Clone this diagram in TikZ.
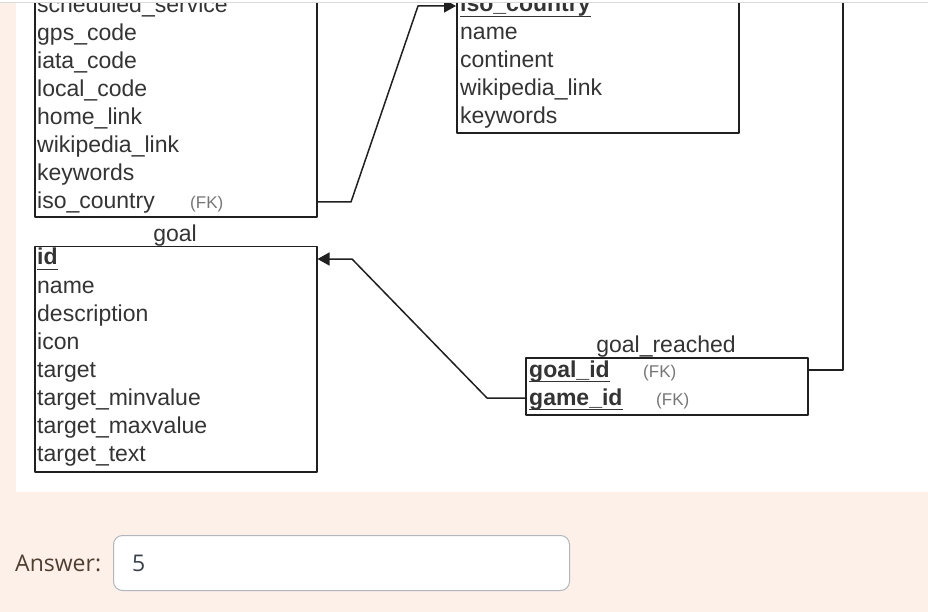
\documentclass[tikz,border=0pt]{standalone}
\usepackage{fontspec}
\setmainfont{Liberation Sans}
\newfontfamily\ansfont{Open Sans}
\usetikzlibrary{arrows.meta}
\definecolor{peach}{RGB}{253,240,233}
\definecolor{txt}{RGB}{52,52,52}
\definecolor{fkgray}{RGB}{118,118,118}
\definecolor{ln}{RGB}{32,32,32}
\definecolor{anscol}{RGB}{80,62,48}
\definecolor{valcol}{RGB}{58,64,74}
\definecolor{boxcol}{RGB}{178,182,188}
\newcommand\keyul[1]{\setbox0\hbox{\bfseries #1}\rlap{\rule[-5pt]{\wd0}{1.3pt}}\box0}
\tikzset{
  tbl/.style={draw=ln, line width=1.5pt, fill=white, minimum width=282pt, inner sep=0pt},
  row/.style={anchor=base west, inner sep=0pt, text=txt},
  fk/.style={anchor=base west, inner sep=0pt, text=fkgray, font=\fontsize{17}{17}\selectfont},
  ttl/.style={anchor=base, inner sep=0pt, text=txt},
  rel/.style={ln, line width=1.5pt}
}
\begin{document}
\begin{tikzpicture}[x=1pt, y=-1pt, font=\fontsize{23}{23}\selectfont, line join=round, >={Triangle[length=12pt,width=13pt]}]
  \useasboundingbox[fill=peach] (0,0) rectangle (928,612);
  \fill[white] (0,0) rectangle (928,3);
  \fill[white] (16,3) rectangle (928,492);
  \draw[gray!30, line width=1pt] (0,3) -- (928,3);
  \begin{scope}
    \clip (16,3.6) rectangle (928,492);
    \node[tbl, minimum height=262pt, anchor=south west] (airport) at (34,218) {};
    \foreach \t [count=\i from 0] in {scheduled\_service, gps\_code, iata\_code, local\_code, home\_link, wikipedia\_link, keywords, iso\_country}
      \node[row] (ap\i) at (37,{13+28*\i}) {\t};
    \node[fk] (apfk) at (190,209) {(FK)};

    \node[tbl, minimum height=170pt, anchor=south west] (iso) at (456,134) {};
    \node[row] (ic0) at (460,12) {\keyul{iso\_country}};
    \foreach \t [count=\i] in {name, continent, wikipedia\_link, keywords}
      \node[row] (ic\i) at (460,{12+28*\i}) {\t};

    \node[ttl] (goallbl) at (175,241) {goal};
    \node[tbl, minimum height=225pt, anchor=north west] (goal) at (34,246) {};
    \node[row] (g0) at (37,265) {\keyul{id}};
    \foreach \t [count=\i] in {name, description, icon, target, target\_minvalue, target\_maxvalue, target\_text}
      \node[row] (g\i) at (37,{265+28*\i}) {\t};

    \node[ttl] (grlbl) at (666,352) {goal\_reached};
    \node[tbl, minimum height=57pt, anchor=north west] (gr) at (525,357) {};
    \node[row] (gr1) at (529,377) {\keyul{goal\_id}};
    \node[row] (gr2) at (529,405) {\keyul{game\_id}};
    \node[fk] (grfk1) at (643,377) {(FK)};
    \node[fk] (grfk2) at (656,405) {(FK)};

    \coordinate (s1) at (351,202);
    \coordinate (b1) at (418,6);
    \coordinate (s2) at (487,398);
    \coordinate (b2) at (352,259);
    \coordinate (s3) at (843,370);
    \coordinate (t3) at (843,0);
    \draw[->, rel] (airport.east |- s1) -- (s1) -- (b1) -- (iso.west |- b1);
    \draw[->, rel] (gr.west |- s2) -- (s2) -- (b2) -- (goal.east |- b2);
    \draw[rel] (gr.east |- s3) -- (s3) -- (t3);
  \end{scope}

  \node[anchor=base west, inner sep=0pt, text=anscol, font=\ansfont\fontsize{23}{23}\selectfont] (anslbl) at (15,571) {Answer:};
  \node[draw=boxcol, line width=1pt, fill=white, rounded corners=9pt, minimum width=456pt, minimum height=55pt, anchor=north west] (ansbox) at (113,535) {};
  \node[anchor=base west, inner sep=0pt, text=valcol, font=\ansfont\fontsize{23}{23}\selectfont] (ansval) at (132,571) {5};
\end{tikzpicture}
\end{document}
